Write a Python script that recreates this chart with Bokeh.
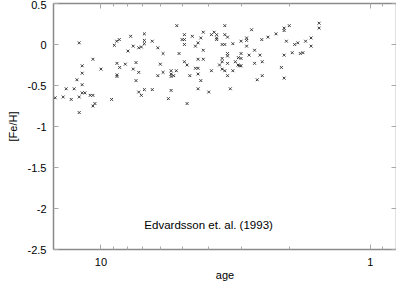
from bokeh.plotting import figure
from bokeh.models import Range1d, FixedTicker, LogAxis, LinearAxis, Label, CustomLabelingPolicy
from bokeh.embed import file_html
from bokeh.resources import INLINE

# Stellar ages (Gyr) and metallicities
age = [12.04, 8.92, 8.74, 8.55, 10.71, 11.74, 10.0, 8.72, 8.52, 11.74,
       8.72, 8.72, 12.28, 11.74, 13.46, 12.57, 11.74, 11.47, 10.96, 10.71,
       14.79, 13.81, 12.89, 12.04, 9.13, 10.71, 10.53, 12.04,
       5.23, 7.76, 6.90, 4.90, 6.90, 6.90, 6.45, 5.00, 4.90, 4.90,
       7.59, 7.24, 7.08, 6.15, 7.94, 5.88, 5.13, 4.90, 4.79, 8.12,
       7.41, 6.02, 7.59, 7.24, 5.88, 5.49, 5.25, 5.49, 5.37, 5.49,
       6.15, 4.68, 7.41, 6.90, 6.45, 5.49, 7.24, 7.08, 5.62, 4.79,
       3.47, 2.76, 4.17, 3.80, 3.89, 3.72, 3.47, 3.39, 4.58, 4.26,
       3.72, 3.72, 2.88, 2.88, 3.02, 3.24, 4.36, 4.46, 3.55, 3.47,
       2.88, 4.17, 2.69, 3.02, 3.39, 3.39, 2.82, 2.57, 3.09, 3.02,
       3.55, 3.55, 4.36, 4.17, 3.39, 3.17, 2.69, 3.63, 3.10, 3.06,
       3.02, 4.46, 4.36, 3.55, 3.47, 3.24, 3.89, 4.36, 3.39, 4.26,
       2.63, 4.36, 3.31, 3.98,
       2.00, 2.09, 2.09, 1.55, 1.55, 2.24, 2.40, 2.53, 1.66, 2.05,
       1.91, 1.86, 1.74, 1.66, 1.95, 1.82, 1.78, 2.09, 2.52, 2.14,
       2.52, 2.09]
feh = [0.02, -0.01, 0.04, 0.06, -0.18, -0.26, -0.30, -0.23, -0.28, -0.35,
       -0.37, -0.39, -0.43, -0.49, -0.54, -0.54, -0.59, -0.59, -0.62, -0.62,
       -0.65, -0.64, -0.67, -0.64, -0.67, -0.75, -0.72, -0.83,
       0.23, 0.10, 0.13, 0.12, 0.05, 0.01, 0.04, 0.06, 0.06, 0.00,
       -0.02, -0.04, -0.03, -0.04, -0.08, -0.11, -0.11, -0.21, -0.25, -0.24,
       -0.22, -0.24, -0.30, -0.34, -0.34, -0.32, -0.32, -0.36, -0.38, -0.39,
       -0.38, -0.38, -0.44, -0.55, -0.55, -0.56, -0.58, -0.62, -0.66, -0.72,
       0.23, 0.18, 0.15, 0.15, 0.12, 0.12, 0.12, 0.09, 0.10, 0.08,
       0.08, 0.06, 0.08, 0.05, 0.04, 0.01, 0.02, -0.02, 0.00, 0.00,
       -0.02, -0.07, -0.07, -0.11, -0.11, -0.14, -0.13, -0.13, -0.16, -0.17,
       -0.17, -0.21, -0.18, -0.18, -0.23, -0.21, -0.23, -0.25, -0.25, -0.26,
       -0.26, -0.29, -0.29, -0.30, -0.32, -0.32, -0.32, -0.36, -0.38, -0.44,
       -0.43, -0.54, -0.54, -0.58,
       0.23, 0.20, 0.17, 0.26, 0.20, 0.13, 0.09, 0.06, 0.08, 0.04,
       0.00, 0.02, 0.04, -0.02, -0.10, -0.11, -0.10, -0.13, -0.21, -0.28,
       -0.38, -0.41]

x_major = [1, 10]
x_minor = [0.9, 2, 3, 4, 5, 6, 7, 8, 9]
y_ticks = [-2.5, -2.0, -1.5, -1.0, -0.5, 0.0, 0.5]
y_labels = ["-2.5", "-2", "-1.5", "-1", "-0.5", "0", "0.5"]
annotation = "Edvardsson et. al. (1993)"

FONT = "Liberation Sans"
AXIS_COLOR = "#8a8a8a"
TICK_COLOR = "#a8a8a8"

p = figure(width=396, height=286, output_backend="svg", toolbar_location=None,
           x_axis_type="log", x_range=Range1d(15, 0.8), y_range=Range1d(-2.5, 0.5),
           min_border_left=53, min_border_right=0, min_border_top=3, min_border_bottom=37)
p.outline_line_color = None
p.xgrid.visible = False
p.ygrid.visible = False
p.background_fill_color = "white"
p.border_fill_color = "white"

p.scatter(age, feh, marker="x", size=4, line_color="#3a3a3a", line_width=1)

xt = FixedTicker(ticks=x_major, minor_ticks=x_minor)
yt = FixedTicker(ticks=y_ticks)
xover = {1: "1", 10: "10"}
yover = {t: l for t, l in zip(y_ticks, y_labels)}

top = LogAxis()
right = LinearAxis()
p.add_layout(top, "above")
p.add_layout(right, "right")

for ax in p.xaxis:
    ax.ticker = xt
    ax.major_label_overrides = xover
for ax in p.yaxis:
    ax.ticker = yt
    ax.major_label_overrides = yover

for ax in p.xaxis + p.yaxis:
    ax.axis_line_color = AXIS_COLOR
    ax.axis_line_width = 1.5
    ax.major_tick_line_color = TICK_COLOR
    ax.major_tick_in = 5
    ax.major_tick_out = 0
    ax.minor_tick_in = 3
    ax.minor_tick_out = 0
    ax.minor_tick_line_color = TICK_COLOR
    ax.major_label_text_font = FONT
    ax.major_label_text_font_size = "11px"
    ax.major_label_text_color = "black"
    ax.axis_label_text_font = FONT
    ax.axis_label_text_font_size = "11px"
    ax.axis_label_text_font_style = "normal"
    ax.axis_label_text_color = "black"
for ax in p.yaxis:
    ax.minor_tick_line_color = None

hide = CustomLabelingPolicy(code="for (const i of Array.from(indices)) { indices.unset(i) }\nreturn indices")
for ax in (top, right):
    ax.major_label_policy = hide
    ax.major_label_text_font_size = "0px"
    ax.major_label_standoff = 0

bottom = p.below[0]
left = p.left[0]
bottom.axis_label = "age"
bottom.major_label_standoff = 8
bottom.axis_label_standoff = 0
left.axis_label = "[Fe/H]"
left.major_label_standoff = 7
left.axis_label_standoff = 6

p.add_layout(Label(x=6.9, y=-2.205, text=annotation, text_font=FONT,
                   text_font_size="11.5px", text_color="black",
                   text_baseline="middle", text_align="left"))

open("out.html", "w").write(file_html(p, INLINE))
